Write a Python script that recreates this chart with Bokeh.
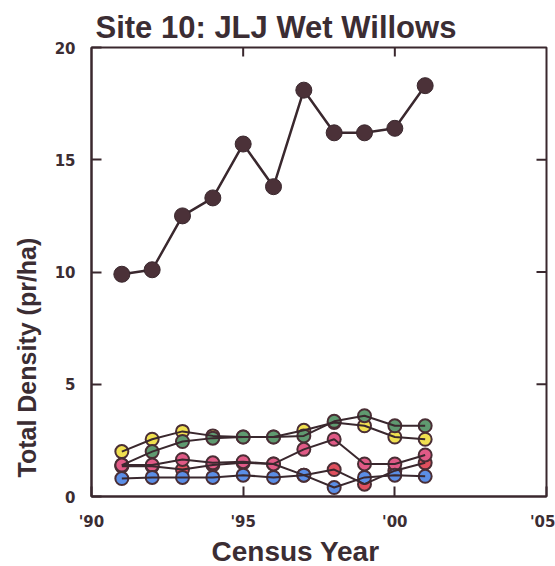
import math
from bokeh.plotting import figure
from bokeh.models import Range1d, FixedTicker, Title
from bokeh.embed import file_html
from bokeh.resources import INLINE

# ---- data ----
years = [1991, 1992, 1993, 1994, 1995, 1996, 1997, 1998, 1999, 2000, 2001]
total = [9.9, 10.1, 12.5, 13.3, 15.7, 13.8, 18.1, 16.2, 16.2, 16.4, 18.3]
yellow = [2.0, 2.55, 2.9, 2.7, 2.65, 2.65, 2.95, 3.3, 3.15, 2.65, 2.55]
green = [1.4, 2.0, 2.45, 2.6, 2.65, 2.65, 2.7, 3.35, 3.6, 3.15, 3.15]
red = [1.35, 1.35, 1.2, 1.4, 1.5, 1.45, 0.95, 1.2, 0.55, 1.15, 1.5]
pink = [1.4, 1.4, 1.65, 1.5, 1.55, 1.45, 2.1, 2.55, 1.45, 1.45, 1.85]
blue = [0.8, 0.85, 0.85, 0.85, 0.95, 0.85, 0.95, 0.4, 0.85, 0.95, 0.9]

x_ticks = [1990, 1995, 2000, 2005]
x_tick_labels = ["'90", "'95", "'00", "'05"]
y_ticks = [0, 5, 10, 15, 20]
x_inner_ticks = [1995, 2000]
y_inner_ticks = [5, 10, 15]

TXT = "#3b2d33"
LINE = "#3a282e"
FONT = "Liberation Sans"
TICKFONT = "DejaVu Sans"

p = figure(width=555, height=566, output_backend="svg", toolbar_location=None,
           x_range=Range1d(1990, 2005), y_range=Range1d(0, 20),
           min_border_left=90, min_border_right=9, min_border_top=47, min_border_bottom=66)
p.outline_line_color = LINE
p.outline_line_width = 2
p.grid.visible = False
p.background_fill_color = "white"
p.border_fill_color = "white"

# series
series = [(yellow, "#f0e050"), (green, "#5f9a70"), (red, "#e0505e"),
          (pink, "#e05a86"), (blue, "#5b8ee6")]
for vals, col in series:
    p.scatter(years, vals, size=13, fill_color=col, line_color="#4a2e35", line_width=2)
for vals, col in series:
    p.line(years, vals, line_color=LINE, line_width=2)

p.line(years, total, line_color=LINE, line_width=2.5)
p.scatter(years, total, size=16, fill_color="#4b3138", line_color="#3a282e", line_width=1)

# inward ticks on the right and top edges of the frame
p.ray(x=[2005] * len(y_inner_ticks), y=y_inner_ticks, length=10, length_units="screen",
      angle=math.pi, line_color=LINE, line_width=2)
p.ray(x=x_inner_ticks, y=[20] * len(x_inner_ticks), length=9, length_units="screen",
      angle=-math.pi / 2, line_color=LINE, line_width=2)

def style_axis(ax):
    ax.axis_line_color = LINE
    ax.axis_line_width = 2
    ax.major_tick_line_color = LINE
    ax.major_tick_line_width = 2
    ax.major_tick_in = 10
    ax.major_tick_out = 0
    ax.minor_tick_line_color = None
    ax.major_label_text_font = TICKFONT
    ax.major_label_text_font_style = "bold"
    ax.major_label_text_font_size = "15px"
    ax.major_label_text_color = TXT

xa = p.xaxis[0]
xa.ticker = FixedTicker(ticks=x_ticks)
xa.major_label_overrides = {t: l for t, l in zip(x_ticks, x_tick_labels)}
style_axis(xa)
xa.major_label_standoff = 16

ya = p.yaxis[0]
ya.ticker = FixedTicker(ticks=y_ticks)
style_axis(ya)
ya.major_label_standoff = 16

p.add_layout(Title(text="Site 10: JLJ Wet Willows", align="left", offset=4,
                   text_font=FONT, text_font_size="31px", text_font_style="bold",
                   text_color=TXT, standoff=6), "above")
p.add_layout(Title(text="Census Year", align="left", offset=120,
                   text_font=FONT, text_font_size="28px", text_font_style="bold",
                   text_color=TXT, standoff=0), "below")
p.add_layout(Title(text="Total Density (pr/ha)", align="left", offset=19,
                   text_font=FONT, text_font_size="25px", text_font_style="bold",
                   text_color=TXT, standoff=21), "left")

open("out.html", "w").write(file_html(p, INLINE))
